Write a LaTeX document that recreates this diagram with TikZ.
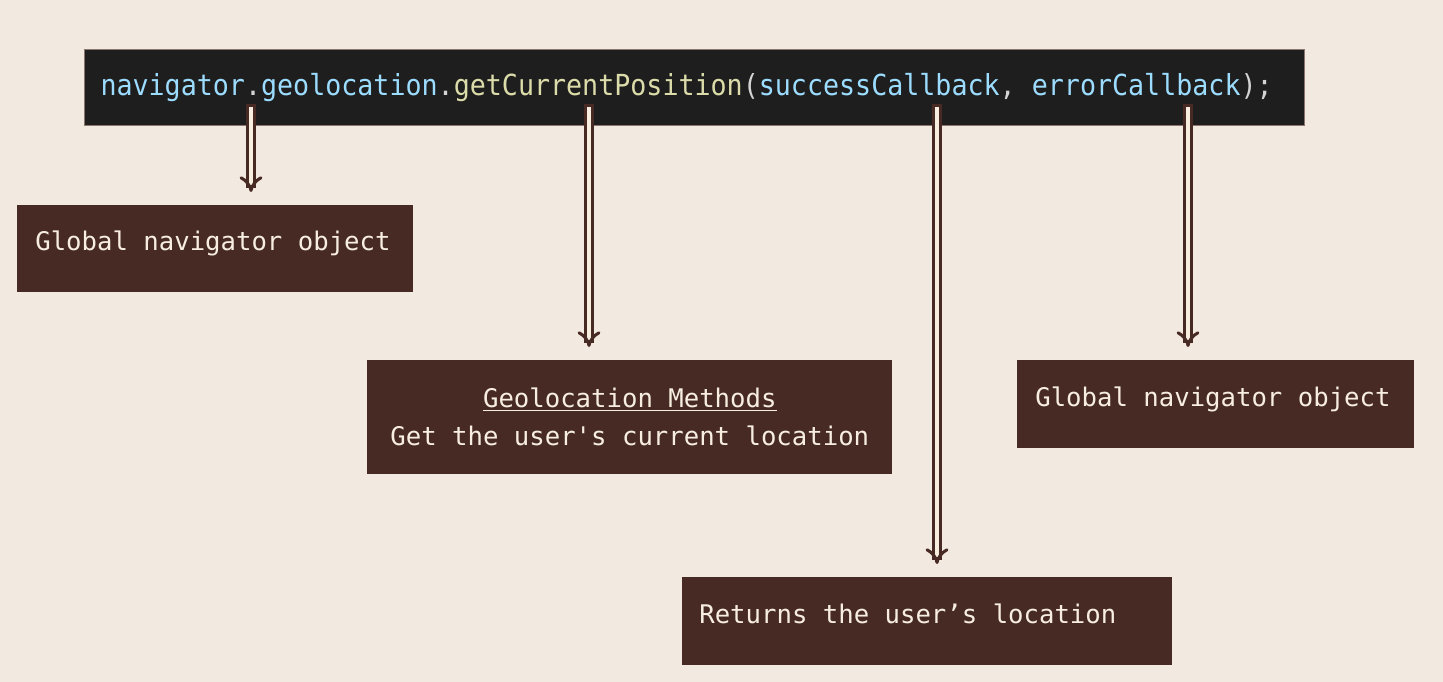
\documentclass[tikz,border=0pt]{standalone}
\usepackage{fontspec}
\newfontfamily\codefont{DejaVu Sans Mono}
\newfontfamily\narrowcode{DejaVu Sans Mono}[FakeStretch=0.92]
\newcommand\fullspaces{\spaceskip=\fontcharwd\font97\relax\xspaceskip=\spaceskip}
\usetikzlibrary{arrows.meta,positioning}
\definecolor{paper}{HTML}{F2E9E0}
\definecolor{codebg}{HTML}{1E1E1E}
\definecolor{boxbrown}{HTML}{472A24}
\definecolor{cream}{HTML}{F7EEE0}
\definecolor{varblue}{HTML}{9CDCFE}
\definecolor{fnyellow}{HTML}{DCDCAA}
\definecolor{punct}{HTML}{D4D4D4}

\begin{document}
\begin{tikzpicture}[x=0.02cm,y=-0.02cm,
    codebar/.style={fill=codebg, draw=boxbrown!60!paper, line width=0.6pt,
        anchor=north west, inner xsep=0.32cm, text width=23.76cm,
        minimum height=1.52cm, align=left, execute at begin node=\fullspaces,
        font=\narrowcode\fontsize{16.5}{18}\selectfont},
    infobox/.style={fill=boxbrown, text=cream, anchor=north west,
        inner xsep=0.36cm, align=left, text depth=9pt,
        execute at begin node=\fullspaces,
        font=\codefont\fontsize{14.6}{21.6}\selectfont},
    pointer/.style={draw=boxbrown, double=cream, double distance=0.09cm,
        line width=0.06cm, line cap=rect, -{Implies}, shorten >=0.26cm}]
    \fill[paper] (0,0) rectangle (1443,682);
    \useasboundingbox (0,0) rectangle (1443,682);

    \node[codebar] (Code) at (84,49) {%
        \textcolor{varblue}{navigator}\textcolor{punct}{.}%
        \textcolor{varblue}{geolocation}\textcolor{punct}{.}%
        \textcolor{fnyellow}{getCurrentPosition}\textcolor{punct}{(}%
        \textcolor{varblue}{successCallback}\textcolor{punct}{, }%
        \textcolor{varblue}{errorCallback}\textcolor{punct}{);}};

    \node[infobox, text width=7.2cm, minimum height=1.74cm] (Nav) at (17,205)
        {Global navigator object};
    \node[infobox, text width=9.78cm, minimum height=2.28cm, align=center, text depth=] (Geo) at (367,360)
        {\underline{Geolocation Methods}\\Get the user\textquotesingle s current location};
    \node[infobox, text width=7.22cm, minimum height=1.76cm] (Err) at (1017,360)
        {Global navigator object};
    \node[infobox, inner xsep=0.34cm, text width=9.12cm, minimum height=1.76cm] (Succ) at (682,577)
        {Returns the user’s location};

    \coordinate (navP) at (251,109);
    \coordinate (geoP) at (589,109);
    \coordinate (succP) at (937,109);
    \coordinate (errP) at (1188,109);

    \draw[pointer] (navP) -- (navP |- Nav.north);
    \draw[pointer] (geoP) -- (geoP |- Geo.north);
    \draw[pointer] (succP) -- (succP |- Succ.north);
    \draw[pointer] (errP) -- (errP |- Err.north);
\end{tikzpicture}
\end{document}
